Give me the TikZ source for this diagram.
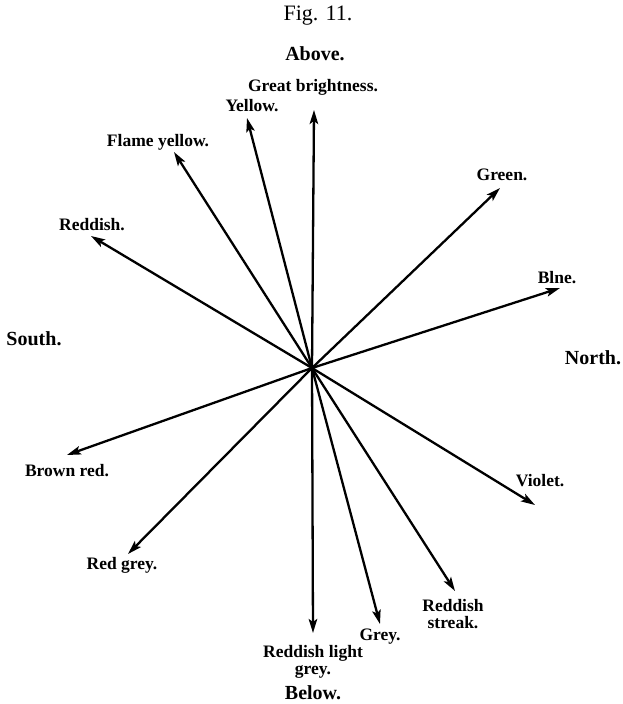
\documentclass[tikz,border=0pt]{standalone}
\usepackage{fontspec}
\setmainfont{Liberation Serif}
\usetikzlibrary{arrows.meta}
\begin{document}
\begin{tikzpicture}[x=1pt,y=-1pt,
  arr/.style={line width=2.3pt,-{Stealth[length=14pt,width=8.5pt,inset=3pt]}},
  lbl/.style={font=\fontsize{17.5}{17.5}\selectfont\bfseries,align=center,inner sep=0pt},
  big/.style={font=\fontsize{20}{20}\selectfont\bfseries,inner sep=0pt},
  title/.style={font=\fontsize{22}{22}\selectfont,inner sep=0pt}]
\useasboundingbox (0,0) rectangle (622,704);
\fill[white] (0,0) rectangle (622,704);
\coordinate (O) at (312,368);
\coordinate (tGB) at (314,110);
\coordinate (tY) at (247,118);
\coordinate (tFY) at (174,152);
\coordinate (tR) at (91,236);
\coordinate (tG) at (500,188);
\coordinate (tB) at (560,288);
\coordinate (tV) at (535,505);
\coordinate (tRS) at (455,591);
\coordinate (tGr) at (380,624);
\coordinate (tRLG) at (313,633);
\coordinate (tRG) at (128,554);
\coordinate (tBR) at (67,455);
\node[title] (fig) at (318,16) {Fig. 11.};
\node[big] (above) at (315,54) {Above.};
\node[big] (below) at (313,693) {Below.};
\node[big] (south) at (34,339) {South.};
\node[big] (north) at (593,358) {North.};
\node[lbl] (lGB) at (313,87) {Great brightness.};
\node[lbl] (lY) at (252,106) {Yellow.};
\node[lbl] (lFY) at (158,142) {Flame yellow.};
\node[lbl] (lR) at (92,225) {Reddish.};
\node[lbl] (lG) at (502,175) {Green.};
\node[lbl] (lB) at (557,278) {Blne.};
\node[lbl] (lV) at (540,481) {Violet.};
\node[lbl] (lRS) at (453,614) {Reddish\\streak.};
\node[lbl] (lGr) at (380,637) {Grey.};
\node[lbl] (lRLG) at (313,662) {Reddish light\\grey.};
\node[lbl] (lRG) at (122,565) {Red grey.};
\node[lbl] (lBR) at (67,471) {Brown red.};
\foreach \t in {tGB,tY,tFY,tR,tG,tB,tV,tRS,tGr,tRLG,tRG,tBR}
  \draw[arr] (O) -- (\t);
\end{tikzpicture}
\end{document}
